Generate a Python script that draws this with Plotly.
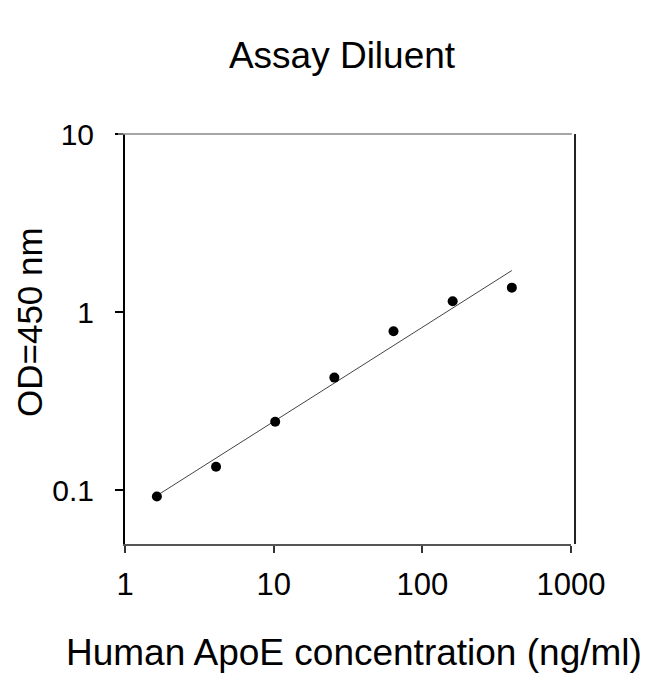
import plotly.graph_objects as go

# standard curve
conc = [1.6384, 4.096, 10.24, 25.6, 64, 160, 400]
od = [0.092, 0.135, 0.242, 0.428, 0.78, 1.15, 1.37]

# fitted line end points
fit_x = [1.6384, 400]
fit_y = [0.093, 1.71]

x_ticks = [1, 10, 100, 1000]
y_ticks = [0.1, 1, 10]

font = "Arial, Liberation Sans, sans-serif"

# page body adds an 8px offset, so the figure is sized to what stays visible
W, H = 642, 666
L, T, PW, PH = 117, 126, 446, 410

fig = go.Figure()
fig.add_trace(go.Scatter(x=fit_x, y=fit_y, mode="lines",
                         line=dict(color="#444444", width=1), showlegend=False))
fig.add_trace(go.Scatter(x=conc, y=od, mode="markers",
                         marker=dict(color="black", size=10), showlegend=False))

fig.update_layout(
    width=W, height=H,
    margin=dict(l=L, r=W - L - PW, t=T, b=H - T - PH),
    paper_bgcolor="white", plot_bgcolor="white",
    font=dict(family=font, color="black"),
    title=dict(text="Assay Diluent", x=334 / W, xanchor="center",
               y=1 - 47 / H, yanchor="middle", font=dict(size=37)),
    xaxis=dict(type="log", range=[0, 3], tickvals=x_ticks, ticktext=[str(v) for v in x_ticks],
               showgrid=False, zeroline=False, showline=True, linecolor="#555555", linewidth=2,
               ticks="outside", ticklen=7, tickwidth=2, tickcolor="#333333",
               tickfont=dict(size=31), ticklabelstandoff=5),
    yaxis=dict(type="log", range=[-1.3034, 1], tickvals=y_ticks, ticktext=["0.1", "1", "10"],
               showgrid=False, zeroline=False, showline=True, linecolor="black", linewidth=2,
               ticks="outside", ticklen=8, tickwidth=1.5, tickcolor="black",
               tickfont=dict(size=30), ticklabelstandoff=15),
)

# frame lines on top and right
fig.add_shape(type="line", xref="paper", yref="paper", x0=-7 / PW, x1=1.002, y0=1, y1=1,
              line=dict(color="#888888", width=1.5))
fig.add_shape(type="line", xref="paper", yref="paper", x0=1.009, x1=1.009, y0=0, y1=1,
              line=dict(color="#222222", width=2))

# axis titles
fig.add_annotation(text="Human ApoE concentration (ng/ml)", xref="paper", yref="paper",
                   x=(346 - L) / PW, y=(T + PH - 644) / PH, xanchor="center", yanchor="middle",
                   showarrow=False, font=dict(size=37))
fig.add_annotation(text="OD=450 nm", xref="paper", yref="paper", textangle=-90,
                   x=(21 - L) / PW, y=(T + PH - 314) / PH, xanchor="center", yanchor="middle",
                   showarrow=False, font=dict(size=35))

fig.write_html("out.html")
